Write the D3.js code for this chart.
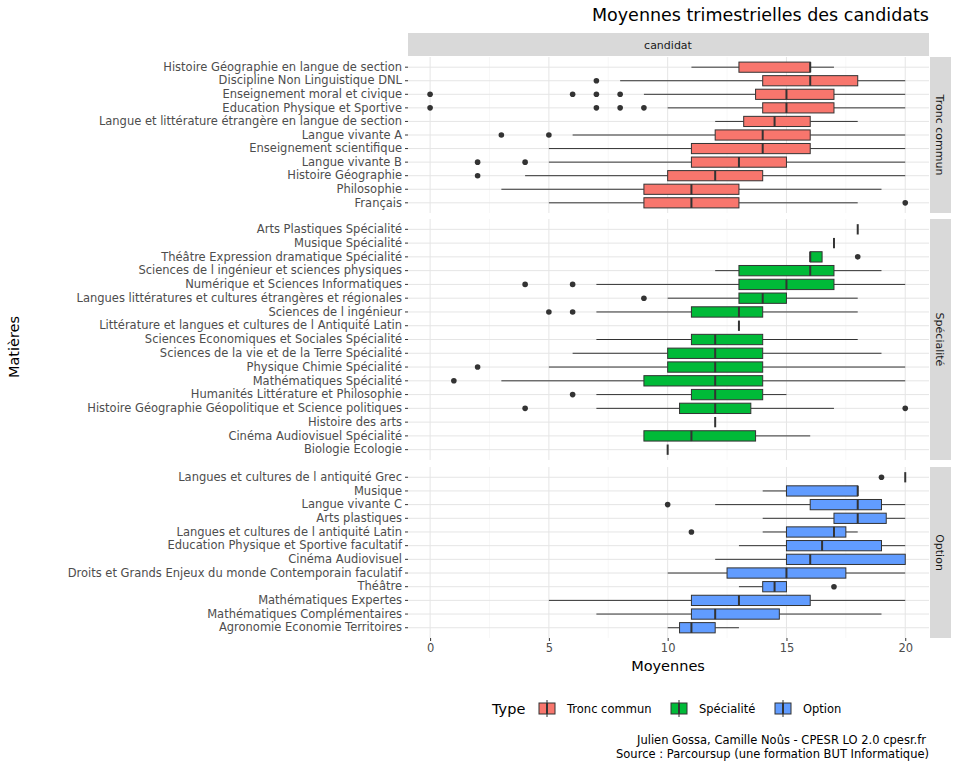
<!DOCTYPE html><html><head><meta charset="utf-8"><script src="https://cdn.jsdelivr.net/npm/d3@7"></script>
<style>body{margin:0;background:#fff}text{font-family:"DejaVu Sans",sans-serif}</style></head><body><svg id="c" width="960" height="768"></svg><script>
const types=["Tronc commun","Spécialité","Option"];
const colors=["#F8766D","#00BA38","#619CFF"];
// [name, whiskerLow, q1, median, q3, whiskerHigh, outliers]
const tronc=[
["Histoire Géographie en langue de section",11,13,16,16,17,[]],
["Discipline Non Linguistique  DNL ",8,14,16,18,20,[7]],
["Enseignement moral et civique",9,13.7,15,17,20,[0,6,7,8]],
["Education Physique et Sportive",10,14,15,17,20,[0,7,8,9]],
["Langue et littérature étrangère en langue de section",12,13.2,14.5,16,18,[]],
["Langue vivante A",6,12,14,16,20,[3,5]],
["Enseignement scientifique",5,11,14,16,20,[]],
["Langue vivante B",5,11,13,15,20,[2,4]],
["Histoire Géographie",4,10,12,14,20,[2]],
["Philosophie",3,9,11,13,19,[]],
["Français",5,9,11,13,18,[20]]];
const spec=[
["Arts Plastiques Spécialité",18,18,18,18,18,[]],
["Musique Spécialité",17,17,17,17,17,[]],
["Théâtre Expression dramatique Spécialité",16,16,16,16.5,16.5,[18]],
["Sciences de l ingénieur et sciences physiques",12,13,16,17,19,[]],
["Numérique et Sciences Informatiques",7,13,15,17,20,[4,6]],
["Langues  littératures et cultures étrangères et régionales",10,13,14,15,18,[9]],
["Sciences de l ingénieur",7,11,13,14,18,[5,6]],
["Littérature et langues et cultures de l Antiquité  Latin",13,13,13,13,13,[]],
["Sciences Economiques et Sociales Spécialité",7,11,12,14,18,[]],
["Sciences de la vie et de la Terre Spécialité",6,10,12,14,19,[]],
["Physique Chimie Spécialité",5,10,12,14,20,[2]],
["Mathématiques Spécialité",3,9,12,14,20,[1]],
["Humanités  Littérature et Philosophie",7,11,12,14,15,[6]],
["Histoire Géographie  Géopolitique et Science politiques",7,10.5,12,13.5,17,[4,20]],
["Histoire des arts",12,12,12,12,12,[]],
["Cinéma Audiovisuel Spécialité",9,9,11,13.7,16,[]],
["Biologie Ecologie",10,10,10,10,10,[]]];
const opt=[
["Langues et cultures de l antiquité   Grec",20,20,20,20,20,[19]],
["Musique",14,15,18,18,18,[]],
["Langue vivante C",12,16,18,19,20,[10]],
["Arts plastiques",14,17,18,19.2,20,[]],
["Langues et cultures de l antiquité   Latin",14,15,17,17.5,18,[11]],
["Education Physique et Sportive  facultatif ",13,15,16.5,19,20,[]],
["Cinéma Audiovisuel",12,15,16,20,20,[]],
["Droits et Grands Enjeux du monde Contemporain faculatif",10,12.5,15,17.5,20,[]],
["Théâtre",13,14,14.5,15,15,[17]],
["Mathématiques Expertes",5,11,13,16,20,[]],
["Mathématiques Complémentaires",7,11,12,14.7,19,[]],
["Agronomie Economie Territoires",10,10.5,11,12,13,[]]];
const xTicks=[0,5,10,15,20];
const groups=[tronc,spec,opt];
const panels=[[57,213],[219,460],[467,638]];
const svg=d3.select("#c");
const x=d3.scaleLinear().domain([-0.93,21]).range([408,929]);
svg.append("rect").attr("x",408).attr("y",33).attr("width",521).attr("height",23).attr("fill","#D9D9D9");
svg.append("text").attr("x",668).attr("y",48.5).attr("text-anchor","middle").attr("font-size",11).attr("fill","#1a1a1a").text("candidat");
groups.forEach((g,i)=>{
 const [t,b]=panels[i];
 const y=d3.scaleBand().domain(g.map(d=>d[0])).range([t,b]).paddingInner(0.25).paddingOuter(0.375);
 const p=svg.append("g");
 [2.5,7.5,12.5,17.5].forEach(v=>p.append("line").attr("x1",x(v)).attr("x2",x(v)).attr("y1",t).attr("y2",b).attr("stroke","#F2F2F2").attr("stroke-width",0.6));
 xTicks.forEach(v=>p.append("line").attr("x1",x(v)).attr("x2",x(v)).attr("y1",t).attr("y2",b).attr("stroke","#E5E5E5"));
 g.forEach(d=>p.append("line").attr("x1",408).attr("x2",929).attr("y1",y(d[0])+y.bandwidth()/2).attr("y2",y(d[0])+y.bandwidth()/2).attr("stroke","#E5E5E5"));
 const ax=svg.append("g").attr("transform",`translate(408,0)`).call(d3.axisLeft(y).tickSize(3).tickPadding(3));
 ax.select(".domain").remove();ax.selectAll("line").attr("stroke","#333");
 ax.selectAll("text").attr("font-size",11.5).attr("fill","#4D4D4D").style("font-family","DejaVu Sans");
 g.forEach(d=>{
  const [n,lo,q1,m,q3,hi,out]=d;const yc=y(n)+y.bandwidth()/2,h=y.bandwidth();
  p.append("line").attr("x1",x(lo)).attr("x2",x(q1)).attr("y1",yc).attr("y2",yc).attr("stroke","#333");
  p.append("line").attr("x1",x(q3)).attr("x2",x(hi)).attr("y1",yc).attr("y2",yc).attr("stroke","#333");
  p.append("rect").attr("x",x(q1)).attr("y",y(n)).attr("width",Math.max(0,x(q3)-x(q1))).attr("height",h).attr("fill",colors[i]).attr("stroke","#333").attr("stroke-width",1);
  p.append("line").attr("x1",x(m)).attr("x2",x(m)).attr("y1",y(n)).attr("y2",y(n)+h).attr("stroke","#333").attr("stroke-width",2);
  out.forEach(o=>p.append("circle").attr("cx",x(o)).attr("cy",yc).attr("r",2.8).attr("fill","#333"));
 });
 svg.append("rect").attr("x",930).attr("y",t).attr("width",21).attr("height",b-t).attr("fill","#D9D9D9");
 svg.append("text").attr("transform",`translate(936,${(t+b)/2}) rotate(90)`).attr("text-anchor","middle").attr("font-size",11).attr("fill","#1a1a1a").text(types[i]);
});
const xa=svg.append("g").attr("transform","translate(0,638)").call(d3.axisBottom(x).tickValues(xTicks).tickSize(3).tickPadding(3));
xa.select(".domain").remove();xa.selectAll("line").attr("stroke","#333");
xa.selectAll("text").attr("font-size",11.5).attr("fill","#4D4D4D").style("font-family","DejaVu Sans");
svg.append("text").attr("x",929).attr("y",21).attr("text-anchor","end").attr("font-size",17.5).attr("fill","#000").text("Moyennes trimestrielles des candidats");
svg.append("text").attr("x",668).attr("y",671).attr("text-anchor","middle").attr("font-size",14.5).text("Moyennes");
svg.append("text").attr("transform","translate(19,347) rotate(-90)").attr("text-anchor","middle").attr("font-size",14.5).text("Matières");
const lg=svg.append("g");
lg.append("text").attr("x",492).attr("y",714).attr("font-size",14.5).text("Type");
const lx=[538,670,774];
types.forEach((t,i)=>{
 const g=lg.append("g").attr("transform",`translate(${lx[i]},700)`);
 g.append("line").attr("x1",9).attr("x2",9).attr("y1",0).attr("y2",17).attr("stroke","#333");
 g.append("rect").attr("x",1).attr("y",3).attr("width",16).attr("height",11).attr("fill",colors[i]).attr("stroke","#333");
 g.append("line").attr("x1",9).attr("x2",9).attr("y1",3).attr("y2",14).attr("stroke","#333").attr("stroke-width",2);
 g.append("text").attr("x",29).attr("y",13).attr("font-size",11.5).text(t);
});
svg.append("text").attr("x",926).attr("y",744).attr("text-anchor","end").attr("font-size",11.5).text("Julien Gossa, Camille Noûs - CPESR LO 2.0 cpesr.fr");
svg.append("text").attr("x",929).attr("y",758).attr("text-anchor","end").attr("font-size",11.5).text("Source : Parcoursup (une formation BUT Informatique)");
</script></body></html>
